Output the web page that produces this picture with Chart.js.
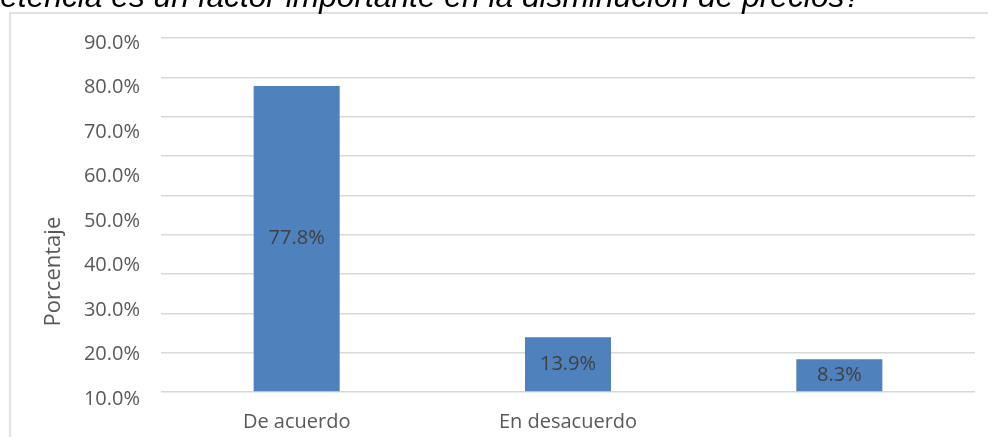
<!DOCTYPE html>
<html>
<head>
<meta charset="utf-8">
<script src="https://cdn.jsdelivr.net/npm/chart.js@4/dist/chart.umd.min.js"></script>
<style>
  html, body { margin: 0; padding: 0; background: #fff; overflow: hidden; }
</style>
</head>
<body>
<canvas id="chart" width="988" height="437"></canvas>
<script>
// datos
const titleText = '¿La competencia es un factor importante en la disminución de precios?';
const visibleTitle = 'etencia es un factor importante en la disminución de precios?';
const categories = ['De acuerdo', 'En desacuerdo', ''];
const percentages = [77.8, 13.9, 8.3];
const tickValues = [10, 20, 30, 40, 50, 60, 70, 80, 90];
const tickLabels = ['10.0%', '20.0%', '30.0%', '40.0%', '50.0%', '60.0%', '70.0%', '80.0%', '90.0%'];
const yTitle = 'Porcentaje';

const textColor = '#595959';
const gridColor = '#d9d9d9';

// marco, título cortado, etiquetas de valores
const decor = {
  id: 'decor',
  beforeDraw(chart) {
    const c = chart.ctx;
    c.save();
    c.strokeStyle = gridColor;
    c.lineWidth = 1.5;
    c.beginPath();
    c.moveTo(10, chart.height);
    c.lineTo(10, 13);
    c.lineTo(chart.width, 13);
    c.stroke();

    c.font = 'italic 100px "Liberation Sans"';
    const w = c.measureText(visibleTitle).width;
    const size = 100 * 862 / w;
    c.font = 'italic ' + size + 'px "Liberation Sans"';
    c.fillStyle = '#000';
    c.textAlign = 'right';
    c.textBaseline = 'alphabetic';
    c.fillText(titleText, 862, 7);
    c.restore();
  },
  afterDatasetsDraw(chart) {
    const c = chart.ctx;
    const meta = chart.getDatasetMeta(0);
    c.save();
    c.font = '20px "Open Sans"';
    c.fillStyle = '#404040';
    c.textAlign = 'center';
    c.textBaseline = 'middle';
    meta.data.forEach((bar, i) => {
      c.fillText(percentages[i].toFixed(1) + '%', bar.x, (bar.y + bar.base) / 2);
    });
    c.restore();
  },
  afterDraw(chart) {
    const c = chart.ctx;
    const area = chart.chartArea;
    c.save();
    c.font = '22px "Open Sans"';
    c.fillStyle = textColor;
    c.textAlign = 'center';
    c.textBaseline = 'middle';
    c.translate(54, area.top + (area.bottom - area.top) * 0.635);
    c.rotate(-Math.PI / 2);
    c.fillText(yTitle, 0, 0);
    c.restore();
  }
};

const tickFont = { family: 'Open Sans', size: 20 };

new Chart(document.getElementById('chart'), {
  type: 'bar',
  data: {
    labels: categories,
    datasets: [{
      data: percentages,
      backgroundColor: '#4f81bd',
      barPercentage: 0.317,
      categoryPercentage: 1,
      xAxisID: 'x',
      yAxisID: 'y'
    }]
  },
  options: {
    responsive: false,
    animation: false,
    layout: { padding: { top: 38, right: 13, left: 0, bottom: 0 } },
    plugins: { legend: { display: false }, tooltip: { enabled: false } },
    scales: {
      x: {
        grid: { display: false, drawTicks: false },
        border: { display: false },
        ticks: { color: textColor, font: tickFont, padding: 4, maxRotation: 0 },
        afterFit: s => { s.height = 31; }
      },
      y: {
        position: 'left',
        weight: 0,
        min: -3.56,
        max: 90,
        grid: { color: gridColor, lineWidth: 1.5, drawTicks: false },
        border: { display: false },
        ticks: { display: false, stepSize: 10, includeBounds: false, padding: 0 },
        afterFit: s => { s.width = 21; }
      },
      // etiquetas del eje (capa desplazada como en la imagen)
      yl: {
        position: 'left',
        weight: 1,
        min: 8.43,
        max: 91.12,
        grid: { display: false, drawTicks: false },
        border: { display: false },
        ticks: {
          stepSize: 10,
          includeBounds: false,
          padding: 0,
          color: textColor,
          font: tickFont,
          callback: v => tickLabels[tickValues.indexOf(v)] || ''
        },
        afterFit: s => { s.width = 140; }
      }
    }
  },
  plugins: [decor]
});
</script>
</body>
</html>
